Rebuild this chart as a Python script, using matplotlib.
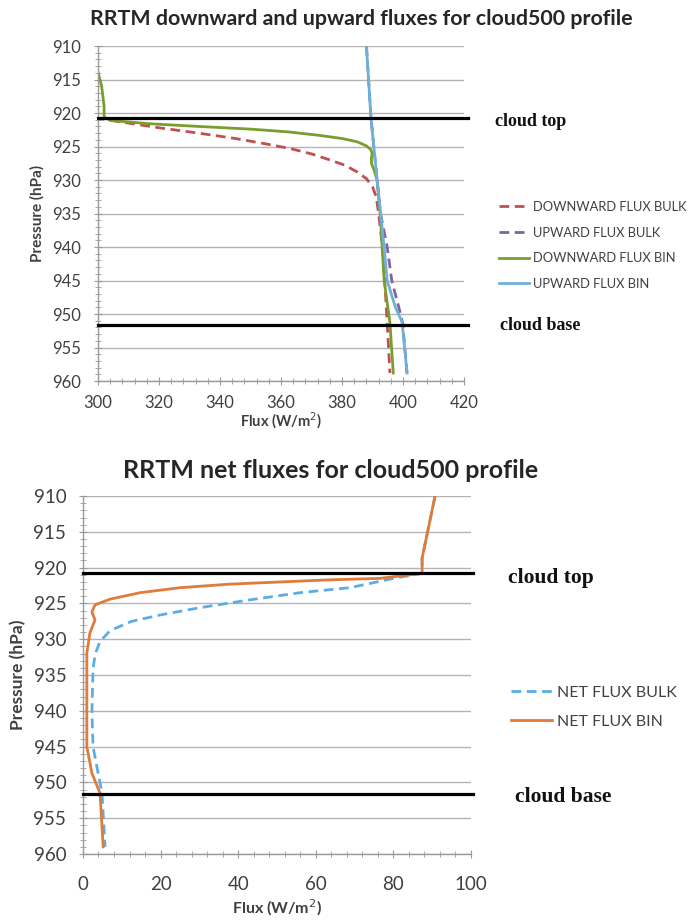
import matplotlib
matplotlib.use("Agg")
import matplotlib.pyplot as plt
from matplotlib.ticker import MultipleLocator

plt.rcParams['font.family'] = ['Lato', 'DejaVu Sans']

# pressure levels (hPa) and fluxes (W/m2) for the cloud500 profile
p_down_bulk = [910, 918, 920.8, 921.5, 922.2, 923.0, 923.8, 924.6, 925.3, 926.1,
               927.0, 927.8, 928.8, 929.8, 931.0, 932.5, 935, 939, 945, 951.3, 958.8]
down_bulk = [280, 294, 300, 310, 320, 333, 345, 355, 363, 370,
             376, 381, 385, 388, 390, 391.2, 392, 393, 394, 394.8, 395.7]

p_up_bulk = [910, 920.8, 930, 935, 940, 945, 950.2, 951.5, 958.8]
up_bulk = [388.0, 389.5, 391.5, 392.6, 394.8, 396.3, 399.3, 399.9, 401.3]

p_down_bin = [910, 913.9, 916, 919, 920.6, 921.1, 921.6, 922.0, 922.4, 922.8,
              923.3, 923.8, 924.3, 924.9, 925.5, 926.1, 926.8, 927.6, 928.5, 930,
              935, 945, 951.3, 958.8]
down_bin = [297, 300, 301.2, 302, 302, 304, 317, 333, 350, 362,
            372, 380, 385, 388, 389.5, 389.9, 389.6, 389.7, 390.5, 391.5,
            392.5, 393.8, 395.7, 396.8]

p_up_bin = [910, 920.8, 930, 940, 945, 949, 951.2, 958.8]
up_bin = [388.0, 389.5, 391.5, 393.8, 394.8, 397.5, 399.7, 401.3]

p_net_bulk = [910.1, 918.7, 920.8, 921.5, 922.2, 922.8, 923.5, 924.5, 925.6, 926.6,
              927.5, 928.8, 930.3, 932.0, 934.0, 940.3, 945, 948.7, 951.5, 959]
net_bulk = [90.7, 87.4, 87.4, 80, 74, 68.8, 55.9, 43.0, 30.0, 20.0,
            12.5, 7.0, 4.4, 3.2, 2.6, 2.3, 2.6, 3.9, 4.9, 5.7]

p_net_bin = [910.1, 918.7, 920.8, 921.5, 921.7, 922.0, 922.3, 922.8, 923.5, 924.4,
             925.2, 926.2, 927.3, 929.1, 931.9, 945, 948.7, 951.5, 959]
net_bin = [90.7, 87.4, 87.4, 76.5, 63.7, 50.8, 37.9, 25.0, 14.7, 7.0,
           3.1, 2.3, 3.1, 1.8, 1.0, 1.0, 2.3, 4.4, 5.2]

cloud_top = 920.8
cloud_base = 951.6

grid_col = '#b4b4b4'
axis_col = '#9a9a9a'
text_col = '#404040'


def style_axes(ax, xlim, tick_size, xpad, ylab_size, ylab_pad, xlab_size, xlab_pad):
    ax.set_ylim(960, 910)
    ax.set_xlim(*xlim)
    ax.xaxis.set_major_locator(MultipleLocator(20))
    ax.xaxis.set_minor_locator(MultipleLocator(4))
    ax.yaxis.set_major_locator(MultipleLocator(5))
    ax.yaxis.set_minor_locator(MultipleLocator(1))
    for s in ['top', 'right']:
        ax.spines[s].set_visible(False)
    for s in ['left', 'bottom']:
        ax.spines[s].set_color(axis_col)
        ax.spines[s].set_linewidth(1.0)
    ax.tick_params(which='both', direction='inout', color=axis_col,
                   labelsize=tick_size, labelcolor=text_col)
    ax.tick_params(which='major', length=6)
    ax.tick_params(which='minor', length=5)
    ax.tick_params(axis='y', which='major', pad=9)
    ax.tick_params(axis='x', which='major', pad=xpad)
    ax.grid(axis='y', which='major', color=grid_col, linewidth=1.0)
    ax.set_axisbelow(True)
    ax.set_ylabel('Pressure (hPa)', fontsize=ylab_size, fontweight='bold',
                  color=text_col, labelpad=ylab_pad)
    ax.set_xlabel('Flux (W/m$^2$)', fontsize=xlab_size, fontweight='bold',
                  color=text_col, labelpad=xlab_pad)


def cloud_lines(ax, x0, x1, top_xy, base_xy, size):
    for p in (cloud_top, cloud_base):
        ax.plot([x0, x1], [p, p], color='black', linewidth=2.3, clip_on=False, zorder=5)
    for xy, s in ((top_xy, 'cloud top'), (base_xy, 'cloud base')):
        ax.text(xy[0] / 692, 1 - xy[1] / 921, s, transform=ax.figure.transFigure,
                fontsize=size, fontweight='bold', family='Liberation Serif',
                va='center', color='#111111')


fig = plt.figure(figsize=(6.92, 9.21), dpi=100)

# downward / upward fluxes
ax1 = fig.add_axes([0.1416, 0.5863, 0.529, 0.3637])
style_axes(ax1, (300, 420), 12, 7, 11, 6, 10.5, 0)
ax1.plot(down_bulk, p_down_bulk, color='#c0504d', linewidth=2.0, dashes=(3.5, 2),
         label='DOWNWARD FLUX BULK')
ax1.plot(up_bulk, p_up_bulk, color='#8064a2', linewidth=2.0, dashes=(3.5, 2),
         label='UPWARD FLUX BULK')
ax1.plot(down_bin, p_down_bin, color='#7a9e2e', linewidth=2.0, label='DOWNWARD FLUX BIN')
ax1.plot(up_bin, p_up_bin, color='#6fb0d8', linewidth=2.0, label='UPWARD FLUX BIN')
cloud_lines(ax1, 300, 421.3, (495, 121), (500, 326), 13)
ax1.legend(loc='center left', bbox_to_anchor=(1.065, 0.405), frameon=False,
           fontsize=9.3, labelcolor=text_col, handlelength=2.3, handletextpad=0.3,
           labelspacing=1.05)
ax1.set_title('RRTM downward and upward fluxes for cloud500 profile',
              fontsize=15.4, fontweight='bold', color='#262626', pad=15, x=0.719)

# net fluxes
ax2 = fig.add_axes([0.1199, 0.0727, 0.5607, 0.3887])
style_axes(ax2, (0, 100), 13.5, 13, 12.5, 5, 11.5, 3)
ax2.plot(net_bulk, p_net_bulk, color='#5aaee6', linewidth=2.0, dashes=(3.5, 2),
         label='NET FLUX BULK')
ax2.plot(net_bin, p_net_bin, color='#e07b39', linewidth=2.0, label='NET FLUX BIN')
cloud_lines(ax2, 0, 100.5, (508, 578), (515, 797), 15.5)
ax2.legend(loc='center left', bbox_to_anchor=(1.065, 0.41), frameon=False,
           fontsize=11.5, labelcolor=text_col, handlelength=2.6, handletextpad=0.3,
           labelspacing=0.95)
ax2.set_title('RRTM net fluxes for cloud500 profile',
              fontsize=18, fontweight='bold', color='#262626', pad=13, x=0.637)

fig.savefig('out.png', dpi=100)
